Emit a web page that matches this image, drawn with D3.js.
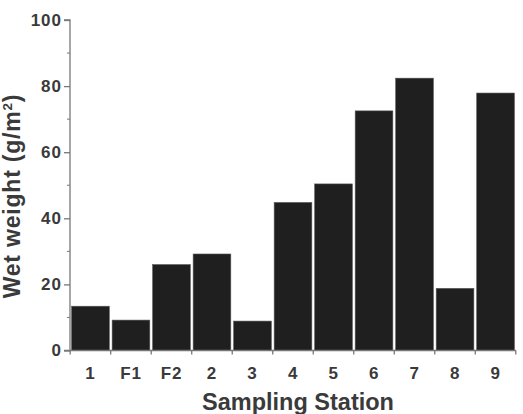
<!DOCTYPE html>
<html>
<head>
<meta charset="utf-8">
<script src="https://cdn.jsdelivr.net/npm/d3@7"></script>
<style>
  body { margin: 0; background: #fff; }
  text { font-family: "Liberation Sans", Arial, sans-serif; }
</style>
</head>
<body>
<div id="chart"></div>
<script>
var width = 523, height = 414;
var margin = { top: 20, right: 7, bottom: 63.5, left: 70 };

// data
var stations = ["1", "F1", "F2", "2", "3", "4", "5", "6", "7", "8", "9"];
var wetWeight = [13.4, 9.2, 26, 29.2, 8.9, 44.8, 50.4, 72.5, 82.4, 18.8, 77.9];
var yTicks = [0, 20, 40, 60, 80, 100];
var yMinor = [10, 30, 50, 70, 90];

var svg = d3.select("#chart").append("svg")
    .attr("width", width).attr("height", height);

var x = d3.scaleBand()
    .domain(stations)
    .range([margin.left, width - margin.right])
    .paddingInner(0.07)
    .paddingOuter(0.04);

var y = d3.scaleLinear()
    .domain([0, 100])
    .range([height - margin.bottom, margin.top]);

var axisColor = "#777";
var textColor = "#3a3a3a";

// bars
svg.append("g").selectAll("rect")
    .data(stations)
    .enter().append("rect")
    .attr("x", function (d) { return x(d); })
    .attr("y", function (d, i) { return y(wetWeight[i]); })
    .attr("width", x.bandwidth())
    .attr("height", function (d, i) { return y(0) - y(wetWeight[i]); })
    .attr("fill", "#1f1f1f")
    .attr("stroke", "#555")
    .attr("stroke-width", 0.6);

// y axis
var yAxis = svg.append("g")
    .attr("transform", "translate(" + margin.left + ",0)")
    .call(d3.axisLeft(y).tickValues(yTicks).tickSize(6).tickPadding(2));
yAxis.select(".domain").attr("stroke", axisColor).attr("stroke-width", 1.3)
    .attr("d", "M-6," + y(100) + "H0V" + y(0) + "H-6");
yAxis.selectAll(".tick line").attr("stroke", axisColor).attr("stroke-width", 1.3);
yAxis.selectAll(".tick text")
    .attr("font-size", 17).attr("font-weight", "bold").attr("fill", textColor)
    .attr("letter-spacing", 1);

svg.append("g").selectAll("line")
    .data(yMinor)
    .enter().append("line")
    .attr("x1", margin.left - 3).attr("x2", margin.left)
    .attr("y1", function (d) { return y(d); })
    .attr("y2", function (d) { return y(d); })
    .attr("stroke", axisColor).attr("stroke-width", 1);

// x axis
var half = x.step() * x.paddingInner() / 2;
var xAxis = svg.append("g")
    .attr("transform", "translate(0," + y(0) + ")")
    .call(d3.axisBottom(x).tickSize(0).tickPadding(16));
xAxis.select(".domain").attr("stroke", axisColor).attr("stroke-width", 1.3)
    .attr("d", "M" + margin.left + ",0H" + (width - margin.right));
xAxis.selectAll(".tick text")
    .attr("font-size", 17).attr("font-weight", "bold").attr("fill", textColor)
    .attr("letter-spacing", 0.8);

var boundaries = stations.map(function (d) { return x(d) - half; });
boundaries.push(x(stations[stations.length - 1]) + x.bandwidth() + half);
xAxis.selectAll(".bnd")
    .data(boundaries)
    .enter().append("line")
    .attr("class", "bnd")
    .attr("x1", function (d) { return d; }).attr("x2", function (d) { return d; })
    .attr("y1", 0).attr("y2", 4)
    .attr("stroke", axisColor).attr("stroke-width", 1.3);

// axis titles
svg.append("text")
    .attr("x", 298)
    .attr("y", 410)
    .attr("text-anchor", "middle")
    .attr("font-size", 23.5).attr("font-weight", "bold").attr("fill", textColor)
    .text("Sampling Station");

var yl = svg.append("text")
    .attr("transform", "translate(20,196) rotate(-90)")
    .attr("text-anchor", "middle")
    .attr("font-size", 23).attr("font-weight", "bold").attr("fill", textColor)
    .attr("letter-spacing", 0.8);
yl.append("tspan").text("Wet weight (g/m");
yl.append("tspan").attr("font-size", 13.5).attr("dy", -8.5).text("2");
yl.append("tspan").attr("dy", 8.5).text(")");
</script>
</body>
</html>
